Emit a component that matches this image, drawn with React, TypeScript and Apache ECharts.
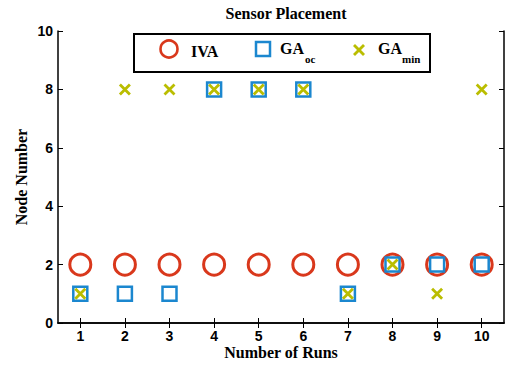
import React, { useEffect, useRef } from "react";
import * as echarts from "echarts";

const runs = ["1", "2", "3", "4", "5", "6", "7", "8", "9", "10"];
const ivaValues = [2, 2, 2, 2, 2, 2, 2, 2, 2, 2];
const gaOcValues = [1, 1, 1, 8, 8, 8, 1, 2, 2, 2];
const gaMinValues = [1, 8, 8, 8, 8, 8, 1, 2, 1, 8];
const yTicks = [0, 2, 4, 6, 8, 10];

const RED = "#D9381C";
const BLUE = "#1B87CF";
const OLIVE = "#BABD00";
const SERIF = "'Liberation Serif', 'Times New Roman', serif";
const SANS = "'Liberation Sans', Arial, sans-serif";
const XPATH = "path://M0,0L10,10M10,0L0,10";

export default function App() {
  const ref = useRef<HTMLDivElement>(null);
  useEffect(() => {
    if (!ref.current) return;
    const chart = echarts.init(ref.current, null, { renderer: "svg" });
    const axisLine = { show: true, lineStyle: { color: "#000", width: 1.5 } };
    const tick = { show: true, inside: true, length: 5, lineStyle: { color: "#000", width: 1 } };
    const nameStyle = { fontFamily: SERIF, fontWeight: "bold", fontSize: 16, color: "#000" };
    chart.setOption({
      animation: false,
      backgroundColor: "#fff",
      title: {
        text: "Sensor Placement",
        left: 281,
        top: 0,
        textAlign: "center",
        textStyle: { fontFamily: SERIF, fontWeight: "bold", fontSize: 16, color: "#000" },
      },
      grid: {
        left: 58,
        top: 31,
        right: 3,
        bottom: 42,
        containLabel: false,
        outerBoundsMode: "none",
      },
      xAxis: [
        {
          type: "category",
          data: runs,
          boundaryGap: true,
          axisLine,
          axisTick: { ...tick, alignWithLabel: true },
          axisLabel: { fontFamily: SANS, fontWeight: "bold", fontSize: 14, color: "#000", margin: 6 },
          splitLine: { show: false },
          name: "Number of Runs",
          nameLocation: "middle",
          nameGap: 21,
          nameMoveOverlap: false,
          nameTextStyle: nameStyle,
        },
        {
          type: "category",
          data: runs,
          position: "top",
          boundaryGap: true,
          axisLine,
          axisTick: { ...tick, alignWithLabel: true },
          axisLabel: { show: false },
          splitLine: { show: false },
        },
      ],
      yAxis: [
        {
          type: "value",
          min: yTicks[0],
          max: yTicks[yTicks.length - 1],
          interval: 2,
          axisLine,
          axisTick: tick,
          axisLabel: { fontFamily: SANS, fontWeight: "bold", fontSize: 14, color: "#000", margin: 5 },
          splitLine: { show: false },
          name: "Node Number",
          nameLocation: "middle",
          nameGap: 29,
          nameMoveOverlap: false,
          nameTextStyle: nameStyle,
        },
        {
          type: "value",
          position: "right",
          min: yTicks[0],
          max: yTicks[yTicks.length - 1],
          interval: 2,
          axisLine,
          axisTick: tick,
          axisLabel: { show: false },
          splitLine: { show: false },
        },
      ],
      series: [
        {
          name: "IVA",
          type: "scatter",
          data: ivaValues,
          symbol: "circle",
          symbolSize: 21,
          itemStyle: { color: "rgba(0,0,0,0)", borderColor: RED, borderWidth: 3, opacity: 1 },
          z: 2,
        },
        {
          name: "GA_oc",
          type: "scatter",
          data: gaOcValues,
          symbol: "rect",
          symbolSize: 14,
          itemStyle: { color: "rgba(0,0,0,0)", borderColor: BLUE, borderWidth: 2.5, opacity: 1 },
          z: 3,
        },
        {
          name: "GA_min",
          type: "scatter",
          data: gaMinValues,
          symbol: XPATH,
          symbolSize: 10,
          itemStyle: { color: "rgba(0,0,0,0)", borderColor: OLIVE, borderWidth: 2.8, opacity: 1 },
          z: 4,
        },
      ],
      graphic: [
        {
          type: "group",
          left: 133,
          top: 33,
          z: 100,
          children: [
            {
              type: "rect",
              shape: { x: 0, y: 0, width: 296, height: 38 },
              style: { fill: "#fff", stroke: "#000", lineWidth: 2 },
            },
            {
              type: "circle",
              shape: { cx: 35, cy: 15, r: 8.5 },
              style: { fill: "none", stroke: RED, lineWidth: 2.6 },
            },
            {
              type: "text",
              x: 57,
              y: 17,
              style: { text: "IVA", fontFamily: SERIF, fontWeight: "bold", fontSize: 16, fill: "#000", verticalAlign: "middle" },
            },
            {
              type: "rect",
              shape: { x: 122, y: 8, width: 14, height: 14 },
              style: { fill: "none", stroke: BLUE, lineWidth: 2.5 },
            },
            {
              type: "text",
              x: 146,
              y: 14,
              style: { text: "GA", fontFamily: SERIF, fontWeight: "bold", fontSize: 16, fill: "#000", verticalAlign: "middle" },
            },
            {
              type: "text",
              x: 171,
              y: 25,
              style: { text: "oc", fontFamily: SERIF, fontWeight: "bold", fontSize: 11, fill: "#000", verticalAlign: "middle" },
            },
            {
              type: "line",
              shape: { x1: 220, y1: 11, x2: 230, y2: 21 },
              style: { stroke: OLIVE, lineWidth: 2.8 },
            },
            {
              type: "line",
              shape: { x1: 230, y1: 11, x2: 220, y2: 21 },
              style: { stroke: OLIVE, lineWidth: 2.8 },
            },
            {
              type: "text",
              x: 244,
              y: 14,
              style: { text: "GA", fontFamily: SERIF, fontWeight: "bold", fontSize: 16, fill: "#000", verticalAlign: "middle" },
            },
            {
              type: "text",
              x: 268,
              y: 25,
              style: { text: "min", fontFamily: SERIF, fontWeight: "bold", fontSize: 11, fill: "#000", verticalAlign: "middle" },
            },
          ],
        },
      ],
    });
    return () => chart.dispose();
  }, []);
  return (
    <div
      ref={ref}
      style={{ position: "fixed", left: 0, top: 0, width: 507, height: 365 }}
    />
  );
}
